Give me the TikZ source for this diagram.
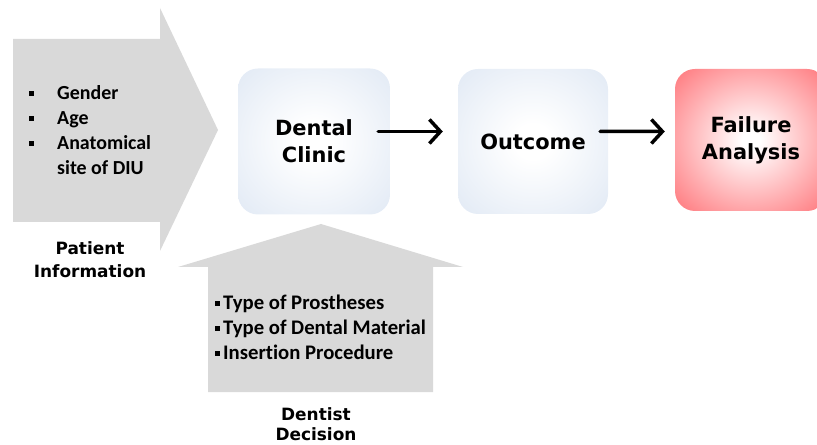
\documentclass[tikz,border=0pt]{standalone}
\usepackage{fontspec}
\setmainfont{DejaVu Sans}
\newfontfamily\calfont[Ligatures=NoCommon]{Carlito}
\usetikzlibrary{arrows.meta,calc}
\definecolor{grayfill}{HTML}{D9D9D9}
\definecolor{boxblue}{HTML}{D7E2F1}
\definecolor{boxred}{HTML}{FF7479}
\pgfdeclareradialshading{blueglow}{\pgfpoint{0bp}{0bp}}{color(0bp)=(white); color(6bp)=(white); color(46bp)=(boxblue); color(71bp)=(boxblue)}
\pgfdeclareradialshading{redglow}{\pgfpoint{0bp}{0bp}}{color(0bp)=(white); color(3bp)=(white); color(36bp)=(boxred); color(71bp)=(boxred)}
\newcommand{\sqbul}{\rule[4bp]{5bp}{5bp}}
\begin{document}
\begin{tikzpicture}[x=1bp,y=-1bp,
 stage/.style={rounded corners=20bp, minimum width=152bp, minimum height=146bp, inner sep=0pt, align=center, font=\bfseries\fontsize{21}{27}\selectfont},
 bigarrow/.style={fill=grayfill},
 listtext/.style={anchor=base west, inner sep=0pt, font=\calfont\bfseries\fontsize{20}{25}\selectfont},
 listwide/.style={listtext, font=\calfont\bfseries\fontsize{20.8}{25}\selectfont},
 caption/.style={anchor=base, inner sep=0pt, font=\bfseries\fontsize{17}{23}\selectfont},
 flow/.style={line width=3.5bp, line cap=round, -{Straight Barb[length=11bp,width=24bp]}}
]
\clip (0,0) rectangle (817,445);
% big grey input arrows
\fill[bigarrow] (13,39) -- (160,39) -- (160,8) -- (218,130) -- (160,251) -- (160,222) -- (13,222) -- cycle;
\fill[bigarrow] (208,392) -- (208,267) -- (178,267) -- (321,224) -- (463,267) -- (433,267) -- (433,392) -- cycle;
% stages
\node[stage, shading=blueglow] (dc) at (314,141.5) {Dental\\Clinic};
\node[stage, shading=blueglow, minimum width=150bp, minimum height=145bp] (oc) at (533,141.5) {Outcome};
\node[stage, shading=redglow, minimum height=142bp, text depth=4bp] (fa) at (751,140) {Failure\\Analysis};
% connectors
\draw[flow] ($(dc.east)+(-12,-10)$) -- ($(oc.west)+(-15,-10)$);
\draw[flow] ($(oc.east)+(-8,-10)$) -- ($(fa.west)+(-10,-8.5)$);
% patient information list
\node[listtext] (l1) at (57,100) {\llap{\sqbul\hspace{23bp}}Gender};
\node[listtext] (l2) at (57,125) {\llap{\sqbul\hspace{23bp}}Age};
\node[listtext] (l3) at (57,150) {\llap{\sqbul\hspace{23bp}}Anatomical};
\node[listtext] (l4) at (57,175) {site of DIU};
\node[caption] (pi1) at (90,255) {Patient};
\node[caption] (pi2) at (90,278) {Information};
% dentist decision list
\node[listwide] (b1) at (223,310) {\llap{\sqbul\hspace{3bp}}Type of Prostheses};
\node[listwide] (b2) at (223,335) {\llap{\sqbul\hspace{3bp}}Type of Dental Material};
\node[listwide] (b3) at (223,360) {\llap{\sqbul\hspace{3bp}}Insertion Procedure};
\node[caption] (dd1) at (316,420) {Dentist};
\node[caption] (dd2) at (316,440.5) {Decision};
\end{tikzpicture}
\end{document}
